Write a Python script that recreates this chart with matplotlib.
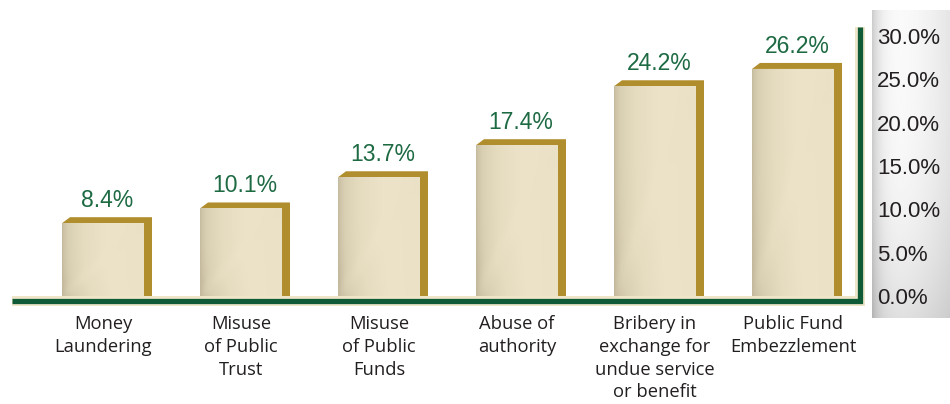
import numpy as np
import matplotlib.pyplot as plt
from matplotlib import font_manager
from matplotlib.patches import Polygon
from matplotlib.colors import LinearSegmentedColormap

# ---- data -------------------------------------------------------------
categories = [
    "Money\nLaundering",
    "Misuse\nof Public\nTrust",
    "Misuse\nof Public\nFunds",
    "Abuse of\nauthority",
    "Bribery in\nexchange for\nundue service\nor benefit",
    "Public Fund\nEmbezzlement",
]
values = [8.4, 10.1, 13.7, 17.4, 24.2, 26.2]
yticks = [0, 5, 10, 15, 20, 25, 30]
ytick_labels = [f"{t:.1f}%" for t in yticks]

# ---- style ------------------------------------------------------------
GREEN = "#0f5b37"
LABEL_GREEN = "#1d6a43"
CREAM = "#efe6c9"
GOLD = "#b18e2d"
TEXT = "#231f20"

# narrow face for the category names, if one is installed
installed = {f.name for f in font_manager.fontManager.ttflist}
if "Liberation Sans Narrow" in installed:
    CAT_FONT, CAT_SIZE, CAT_LS = "Liberation Sans Narrow", 15, 1.28
else:
    CAT_FONT, CAT_SIZE, CAT_LS = "Open Sans", 13.2, 1.33

W, H = 950, 404
fig = plt.figure(figsize=(W / 100, H / 100), dpi=100)
fig.patch.set_facecolor("white")


def fx(px):
    return px / W


def fy(py):
    return 1 - py / H


# ---- shaded panel behind the value axis --------------------------------
pax = fig.add_axes([fx(872), fy(318), fx(950) - fx(872), fy(10) - fy(318)], zorder=0)
gx = np.linspace(0, 1, 160)
gy = np.linspace(0, 1, 300)
X, Y = np.meshgrid(gx, gy)
shade = 1.0 - 0.20 * np.exp(-X / 0.12) - 0.10 * X ** 2 - 0.10 * Y ** 3
pax.imshow(shade, cmap="gray", vmin=0, vmax=1, aspect="auto",
           extent=(0, 1, 1, 0), interpolation="bilinear")
pax.axis("off")

# ---- main axes --------------------------------------------------------
y0_px, y30_px = 296, 36
right_px = 865
step_px = 138
first_px = 103
ax = fig.add_axes([0, fy(y0_px), fx(right_px), fy(y30_px) - fy(y0_px)], zorder=1)
ax.patch.set_alpha(0)
ax.set_xlim(-first_px / step_px, (right_px - first_px) / step_px)
ax.set_ylim(0, 30)
for s in ax.spines.values():
    s.set_visible(False)

px_x = step_px                      # pixels per x unit
px_y = (y0_px - y30_px) / 30.0      # pixels per y unit
face_w = 82 / px_x
side_dx = 8 / px_x
side_dy = 6 / px_y

x = np.arange(len(values))
bars = ax.bar(x, values, width=face_w, color="#e8dec2", zorder=3, linewidth=0)

# face shading: darker on the left, light cream to the right
face_cmap = LinearSegmentedColormap.from_list(
    "face", ["#c4b99c", "#d9cfb3", "#e6dcc0", "#ece3c9", "#eae1c6"])
fxg = np.linspace(0, 1, 120)
fyg = np.linspace(0, 1, 200)
FX, FY = np.meshgrid(fxg, fyg)
face_val = np.clip(FX ** 0.55 + 0.08 * np.exp(-((FX - (1 - FY)) ** 2) / 0.01)
                   - 0.15 * (FY ** 4) * (1 - FX), 0, 1)

for xi, v, b in zip(x, values, bars):
    left, right = xi - face_w / 2, xi + face_w / 2
    im = ax.imshow(face_val, cmap=face_cmap, vmin=0, vmax=1, aspect="auto",
                   extent=(left, right, 0, v), origin="upper",
                   interpolation="bilinear", zorder=3.1)
    im.set_clip_path(b)
    ax.add_patch(Polygon([(left, v), (left + side_dx, v + side_dy),
                          (right + side_dx, v + side_dy), (right + side_dx, 0),
                          (right, 0), (right, v)],
                         closed=True, facecolor=GOLD, edgecolor="none",
                         zorder=2.9, clip_on=False))
    ax.annotate(f"{v}%", xy=(xi + side_dx / 2, v + side_dy), xytext=(0, 7.2),
                textcoords="offset points", ha="center", va="baseline",
                fontsize=16.5, color=LABEL_GREEN, family="Liberation Sans",
                zorder=5)

# ---- L-shaped frame (base + right wall) -------------------------------
base_y = -4.5 / (y0_px - y30_px)
frame_x = [12 / right_px, 860 / right_px, 860 / right_px]
frame_y = [base_y, base_y, (y0_px - 27) / (y0_px - y30_px)]
ax.plot(frame_x, frame_y, transform=ax.transAxes, color=CREAM, lw=7.2,
        solid_joinstyle="miter", solid_capstyle="butt", clip_on=False, zorder=2)
ax.plot(frame_x, frame_y, transform=ax.transAxes, color=GREEN, lw=3.8,
        solid_joinstyle="miter", solid_capstyle="butt", clip_on=False, zorder=2.1)

# ---- ticks --------------------------------------------------------------
ax.yaxis.tick_right()
ax.set_yticks(yticks, ytick_labels)
ax.tick_params(axis="y", length=0, pad=8.5, labelsize=16, labelcolor=TEXT)
for t in ax.get_yticklabels():
    t.set_family("Liberation Sans")

ax.set_xticks(x, categories)
ax.tick_params(axis="x", length=0, pad=14, labelsize=CAT_SIZE, labelcolor=TEXT)
for t in ax.get_xticklabels():
    t.set_family(CAT_FONT)
    t.set_linespacing(CAT_LS)

fig.savefig("out.png", dpi=100, facecolor="white")
